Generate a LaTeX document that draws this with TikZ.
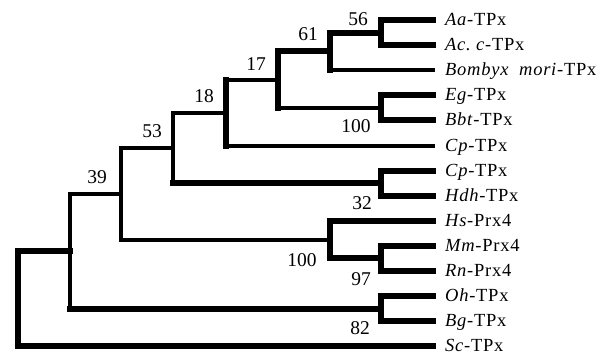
\documentclass[tikz,border=0pt]{standalone}
\usepackage{fontspec}
\setmainfont{Liberation Serif}
\newfontfamily\leaffam[LetterSpace=4]{Liberation Serif}
\newfontfamily\numfam{Liberation Serif}
\begin{document}
\begin{tikzpicture}[x=1pt, y=-1pt,
  thin/.style={line width=4pt, line cap=rect},
  thick/.style={line width=6pt, line cap=rect},
  leaf/.style={anchor=base west, inner sep=0pt, font={\leaffam\fontsize{18.5}{20}\selectfont}},
  boot/.style={inner sep=0pt, font={\numfam\fontsize{19.5}{21}\selectfont}}]
\useasboundingbox (0,0) rectangle (612,357);

% leaf tips and taxon labels
\foreach \i/\y in {1/20,2/45.1,3/70.2,4/95.3,5/120.4,6/145.5,7/170.6,
                   8/195.7,9/220.8,10/245.9,11/271,12/296.1,13/321.2,14/346.3}
  \coordinate (t\i) at (433,\y);
\node[leaf] (l1)  at (445, 25.5) {\textit{Aa}-TPx};
\node[leaf] (l2)  at (445, 50.6) {\textit{Ac.~c}-TPx};
\node[leaf] (l3)  at (445, 75.7) {\textit{Bombyx~ mori}-TPx};
\node[leaf] (l4)  at (445,100.8) {\textit{Eg}-TPx};
\node[leaf] (l5)  at (445,125.9) {\textit{Bbt}-TPx};
\node[leaf] (l6)  at (445,151.0) {\textit{Cp}-TPx};
\node[leaf] (l7)  at (445,176.1) {\textit{Cp}-TPx};
\node[leaf] (l8)  at (445,201.2) {\textit{Hdh}-TPx};
\node[leaf] (l9)  at (445,226.3) {\textit{Hs}-Prx4};
\node[leaf] (l10) at (445,251.4) {\textit{Mm}-Prx4};
\node[leaf] (l11) at (445,276.5) {\textit{Rn}-Prx4};
\node[leaf] (l12) at (445,301.6) {\textit{Oh}-TPx};
\node[leaf] (l13) at (445,326.7) {\textit{Bg}-TPx};
\node[leaf] (l14) at (445,351.8) {\textit{Sc}-TPx};

% internal nodes
\coordinate (n56)  at (381, 32.55);
\coordinate (n61)  at (329.5, 51.4);
\coordinate (nEB)  at (381, 107.85);
\coordinate (n17)  at (277.5, 79.6);
\coordinate (n18)  at (226, 112.5);
\coordinate (nCH)  at (381, 183.15);
\coordinate (n53)  at (173, 147.8);
\coordinate (nMR)  at (381, 258.45);
\coordinate (nH)   at (329.5, 239.6);
\coordinate (n39)  at (121, 193.7);
\coordinate (nOB)  at (381, 308.65);
\coordinate (nR2)  at (70, 251.2);
\coordinate (root) at (18, 298.75);

% branches: \clade{parent}{top child}{bottom child}{vertical}{top}{bottom}
\newcommand\clade[6]{%
  \draw[#4] (#1 |- #2) -- (#1 |- #3);
  \draw[#5] (#1 |- #2) -- (#2);
  \draw[#6] (#1 |- #3) -- (#3);}
\clade{n56}{t1}{t2}{thick}{thick}{thick}
\clade{n61}{n56}{t3}{thick}{thick}{thin}
\clade{nEB}{t4}{t5}{thick}{thick}{thick}
\clade{n17}{n61}{nEB}{thick}{thick}{thin}
\clade{n18}{n17}{t6}{thick}{thin}{thin}
\clade{nCH}{t7}{t8}{thick}{thick}{thick}
\clade{n53}{n18}{nCH}{thin}{thin}{thick}
\clade{nMR}{t10}{t11}{thick}{thick}{thick}
\clade{nH}{t9}{nMR}{thick}{thick}{thick}
\clade{n39}{n53}{nH}{thin}{thin}{thin}
\clade{nOB}{t12}{t13}{thick}{thick}{thick}
\clade{nR2}{n39}{nOB}{thin}{thin}{thick}
\clade{root}{nR2}{t14}{thick}{thick}{thick}

% bootstrap values
\node[boot] (b56)  at (358, 19)  {56};
\node[boot] (b61)  at (308, 34)  {61};
\node[boot] (b17)  at (256, 64)  {17};
\node[boot] (b18)  at (204, 96)  {18};
\node[boot] (b53)  at (152, 131) {53};
\node[boot] (b39)  at (97, 177)  {39};
\node[boot] (bEB)  at (356, 126) {100};
\node[boot] (bCH)  at (362, 203) {32};
\node[boot] (bH)   at (302, 260) {100};
\node[boot] (bMR)  at (361, 279) {97};
\node[boot] (bOB)  at (360, 328) {82};
\end{tikzpicture}
\end{document}
